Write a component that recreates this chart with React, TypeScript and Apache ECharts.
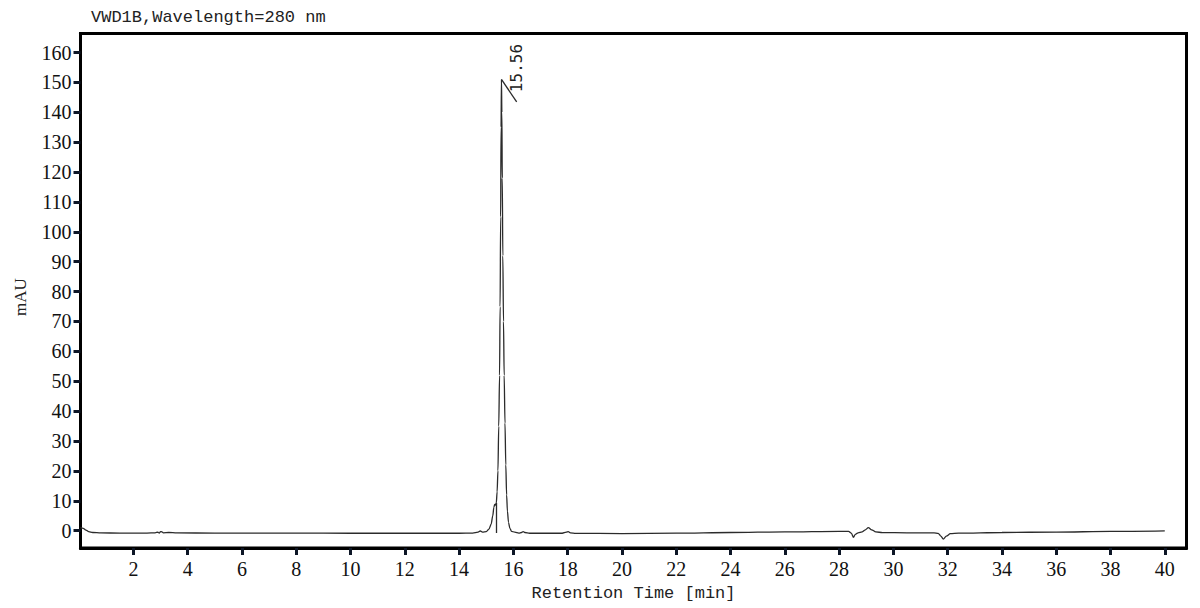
import React, { useEffect, useRef } from "react";
import * as echarts from "echarts";

// ---- data (time [min], signal [mAU]) ----
const startTrace: [number, number][] = [
  [0.05, 1.0], [0.15, 0.8], [0.25, 0.2], [0.35, -0.3], [0.5, -0.6], [0.8, -0.75],
  [1.5, -0.8], [2.5, -0.8], [2.8, -0.7], [2.9, -0.5], [2.95, -0.8], [3.0, -0.3],
  [3.05, -0.4], [3.1, -0.7], [3.3, -0.6], [3.6, -0.75], [5, -0.8], [8, -0.8],
  [10, -0.85], [12, -0.85], [14, -0.85], [14.5, -0.8], [14.7, -0.5], [14.78, -0.1],
  [14.86, -0.5], [15.0, -0.3], [15.1, 0.5],
];

const peakTrace: [number, number][] = [
  [15.18, 2.2], [15.24, 5.0], [15.28, 7.8], [15.31, 8.8], [15.34, 8.6], [15.37, 9.3],
  [15.4, 13], [15.43, 20], [15.46, 35], [15.49, 52], [15.51, 75], [15.53, 105],
  [15.545, 135], [15.56, 151], [15.575, 140], [15.59, 118], [15.61, 92], [15.635, 70],
  [15.66, 52], [15.69, 36], [15.72, 22], [15.75, 12], [15.78, 6.5], [15.82, 2.8],
  [15.87, 0.8], [15.93, -0.2], [16.05, -0.5],
];

const lateTrace: [number, number][] = [
  [16.2, -0.8], [16.3, -0.6], [16.36, -0.3], [16.42, -0.6], [16.6, -0.85], [17.8, -0.85],
  [17.95, -0.5], [18.02, -0.3], [18.1, -0.7], [18.3, -0.9], [20, -0.95], [22, -0.8],
  [24, -0.6], [26, -0.4], [28, -0.2], [28.35, -0.2], [28.45, -0.8], [28.53, -2.2],
  [28.6, -1.2], [28.7, -0.7], [28.85, -0.4], [28.95, 0.2], [29.08, 1.0], [29.2, 0.3],
  [29.35, -0.4], [29.6, -0.65], [30.5, -0.7], [31.5, -0.7], [31.65, -0.9], [31.75, -1.8],
  [31.84, -2.8], [31.95, -1.8], [32.1, -1.0], [32.4, -0.8], [34, -0.6], [36, -0.45],
  [38, -0.25], [40, -0.05],
];

const peakTime = 15.56;
const peakHeight = 151;
const peakLabel = "15.56";
const dropLineTime = 15.37;
const dropLineFrom = -0.77;
const dropLineTo = 9.3;
const tickEnd: [number, number] = [16.12, 143.5];
const labelAnchor: [number, number] = [16.1, 154.8];

const xTicks = [2, 4, 6, 8, 10, 12, 14, 16, 18, 20, 22, 24, 26, 28, 30, 32, 34, 36, 38, 40];
const yTicks = [0, 10, 20, 30, 40, 50, 60, 70, 80, 90, 100, 110, 120, 130, 140, 150, 160];
const xRange: [number, number] = [0.05, 40.8];
const yRange: [number, number] = [-5.79, 166.36];

const titleText = "VWD1B,Wavelength=280 nm";
const xName = "Retention Time [min]";
const yName = "mAU";

export default function App() {
  const ref = useRef<HTMLDivElement>(null);

  useEffect(() => {
    document.body.style.margin = "0";
    if (!ref.current) return;
    const chart = echarts.init(ref.current, undefined, { renderer: "svg" });
    const trace = [...startTrace, ...peakTrace, ...lateTrace];
    const serif = "Liberation Serif";
    const mono = "Liberation Mono";

    chart.setOption({
      animation: false,
      backgroundColor: "#ffffff",
      title: {
        text: titleText,
        left: 86,
        top: 4,
        textStyle: { fontFamily: mono, fontSize: 17, fontWeight: "normal", color: "#222" },
      },
      grid: {
        left: 80.5,
        right: 13.5,
        top: 33.5,
        bottom: 60,
        show: true,
        borderColor: "#000",
        borderWidth: 3,
        containLabel: false,
      },
      xAxis: {
        type: "value",
        min: xRange[0],
        max: xRange[1],
        name: xName,
        nameLocation: "middle",
        nameGap: 37,
        nameTextStyle: { fontFamily: mono, fontSize: 17, color: "#222" },
        axisLine: { show: true, onZero: false, lineStyle: { color: "#000", width: 3 } },
        axisTick: {
          show: true,
          length: 7,
          lineStyle: { color: "#0d1626", width: 3 },
          customValues: xTicks,
        },
        axisLabel: {
          show: true,
          margin: 11,
          fontFamily: serif,
          fontSize: 20,
          color: "#111",
          customValues: xTicks,
        },
        splitLine: { show: false },
      },
      yAxis: {
        type: "value",
        min: yRange[0],
        max: yRange[1],
        axisLine: { show: true, onZero: false, lineStyle: { color: "#000", width: 3 } },
        axisTick: {
          show: true,
          length: 7,
          lineStyle: { color: "#0d1626", width: 3 },
          customValues: yTicks,
        },
        axisLabel: {
          show: true,
          margin: 9,
          fontFamily: serif,
          fontSize: 20,
          color: "#111",
          customValues: yTicks,
        },
        splitLine: { show: false },
      },
      graphic: [
        {
          type: "text",
          x: 20,
          y: 297,
          rotation: Math.PI / 2,
          style: {
            text: yName,
            fontFamily: serif,
            fontSize: 17,
            fill: "#222",
            align: "center",
            verticalAlign: "middle",
          },
        },
      ],
      series: [
        {
          type: "line",
          data: trace,
          symbol: "none",
          showSymbol: false,
          smooth: 0.3,
          smoothMonotone: "x",
          clip: true,
          lineStyle: { color: "#2b2b2b", width: 1.3 },
          silent: true,
          markLine: {
            silent: true,
            symbol: ["none", "none"],
            label: { show: false },
            lineStyle: { color: "#2b2b2b", width: 1.3, type: "solid" },
            emphasis: { disabled: true },
            data: [
              [{ coord: [dropLineTime, dropLineFrom] }, { coord: [dropLineTime, dropLineTo] }],
              [{ coord: [peakTime, peakHeight] }, { coord: tickEnd }],
            ],
          },
          markPoint: {
            silent: true,
            symbol: "circle",
            symbolSize: 1,
            itemStyle: { color: "rgba(0,0,0,0)" },
            label: {
              show: true,
              formatter: peakLabel,
              position: "inside",
              rotate: 90,
              fontFamily: "DejaVu Sans Mono",
              fontSize: 16,
              color: "#222",
              align: "center",
              verticalAlign: "middle",
            },
            data: [{ coord: labelAnchor }],
          },
        },
      ],
    });

    return () => chart.dispose();
  }, []);

  return <div ref={ref} style={{ width: 1200, height: 608 }} />;
}
